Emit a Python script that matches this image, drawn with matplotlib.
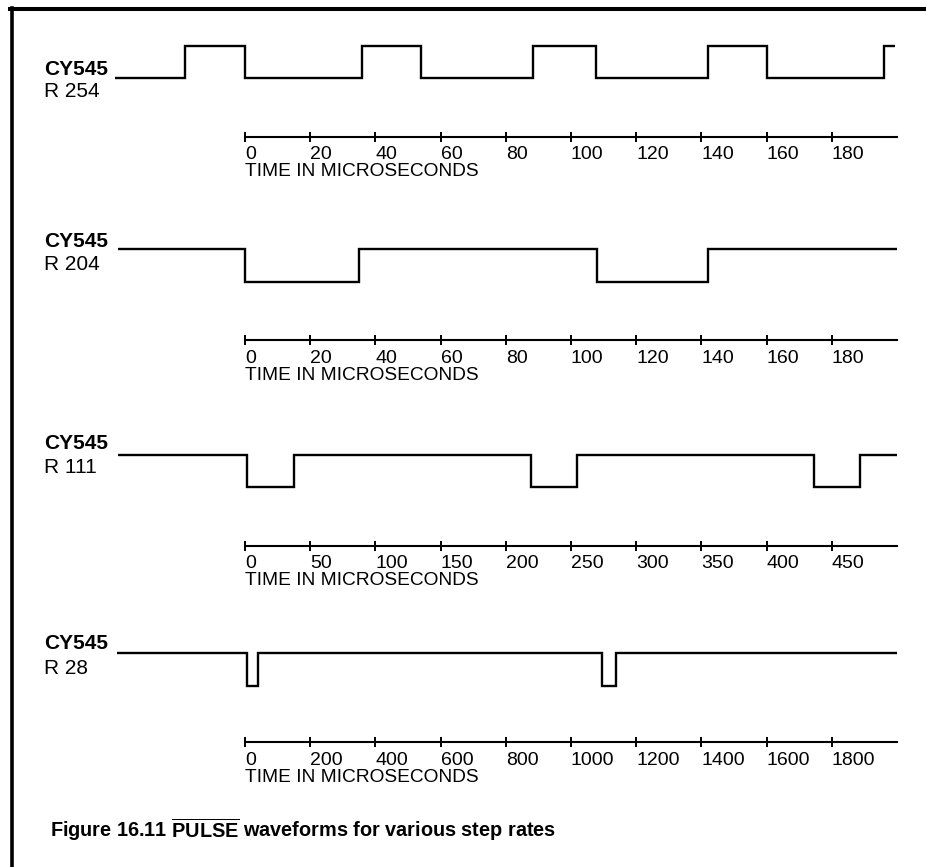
import matplotlib
matplotlib.use("Agg")
import matplotlib.pyplot as plt
from matplotlib.lines import Line2D

plt.rcParams['font.family'] = ['Liberation Sans', 'DejaVu Sans']
plt.rcParams['mathtext.fontset'] = 'custom'
plt.rcParams['mathtext.rm'] = 'Liberation Sans'
plt.rcParams['mathtext.bf'] = 'Liberation Sans:bold'

W, H = 926, 867

# step rate labels
chip = "CY545"
rates = ["R 254", "R 204", "R 111", "R 28"]

# time scale of each trace (microseconds)
spans = [200, 200, 500, 2000]
ticks = [
    list(range(0, 200, 20)),
    list(range(0, 200, 20)),
    list(range(0, 500, 50)),
    list(range(0, 2000, 200)),
]

# waveform edges (microseconds) and logic level between edges
r254_edges = [-39.9, -18.5, 0, 35.8, 54, 88.4, 107.6, 142, 160, 196, 199.5]
r254_levels = [0, 1, 0, 1, 0, 1, 0, 1, 0, 1]

r204_edges = [-38.9, 0, 35, 108, 142, 200]
r204_levels = [1, 0, 1, 0, 1]

r111_edges = [-97.4, 1.3, 37.6, 219.3, 254.8, 436, 472, 500]
r111_levels = [1, 0, 1, 0, 1, 0, 1]

r28_edges = [-393, 5, 41, 1094, 1137, 2000]
r28_levels = [1, 0, 1, 0, 1]

edges = [r254_edges, r204_edges, r111_edges, r28_edges]
levels = [r254_levels, r204_levels, r111_levels, r28_levels]

# pixel layout: (high level, low level, time axis, label baselines)
rows = [
    (45.7, 77.7, 136.7, 75, 97),
    (249, 281.5, 340, 247, 270),
    (455, 487, 545.7, 449, 473),
    (653.3, 686, 742.3, 649, 674),
]

x_wave, x_zero, x_end = 115, 245, 897

fig = plt.figure(figsize=(W / 100, H / 100), dpi=100)
fig.patch.set_facecolor('white')

for i in range(4):
    hi, lo, axy, cy_y, r_y = rows[i]
    span = spans[i]

    # waveform
    ax = fig.add_axes([x_wave / W, 1 - lo / H, (x_end - x_wave) / W, (lo - hi) / H])
    ax.stairs(levels[i], edges[i], baseline=None, color='black', lw=1.7, clip_on=False)
    ax.set_xlim(-(x_zero - x_wave) / (x_end - x_zero) * span, span)
    ax.set_ylim(0, 1)
    ax.axis('off')

    # time scale
    sx = fig.add_axes([x_zero / W, 1 - axy / H, (x_end - x_zero) / W, 0.001])
    sx.set_xlim(0, span)
    sx.set_yticks([])
    for s in ['top', 'left', 'right']:
        sx.spines[s].set_visible(False)
    sx.spines['bottom'].set_linewidth(1.5)
    sx.patch.set_alpha(0)
    sx.set_xticks(ticks[i])
    sx.set_xticklabels([str(t) for t in ticks[i]], ha='left')
    sx.tick_params(axis='x', direction='inout', length=7, width=1.4, pad=3.5,
                   labelsize=14)
    sx.set_xlabel("TIME IN MICROSECONDS", loc='left', labelpad=0, fontsize=13.8)

    fig.text(44 / W, 1 - cy_y / H, chip, fontsize=15, fontweight='bold', va='baseline')
    fig.text(44 / W, 1 - r_y / H, rates[i], fontsize=15, va='baseline')

# frame lines along top and left
fig.add_artist(Line2D([10 / W, 1], [1 - 9.2 / H, 1 - 9.2 / H], color='black', lw=2.9,
                      transform=fig.transFigure))
fig.add_artist(Line2D([11.5 / W, 11.5 / W], [1 - 7.5 / H, 0], color='black', lw=2.6,
                      transform=fig.transFigure))

fig.text(50 / W, 1 - 837 / H,
         r"Figure 16.11 $\overline{\mathbf{PULSE}}$ waveforms for various step rates",
         fontsize=14.3, fontweight='bold', va='baseline')

fig.savefig("out.png", dpi=100)
